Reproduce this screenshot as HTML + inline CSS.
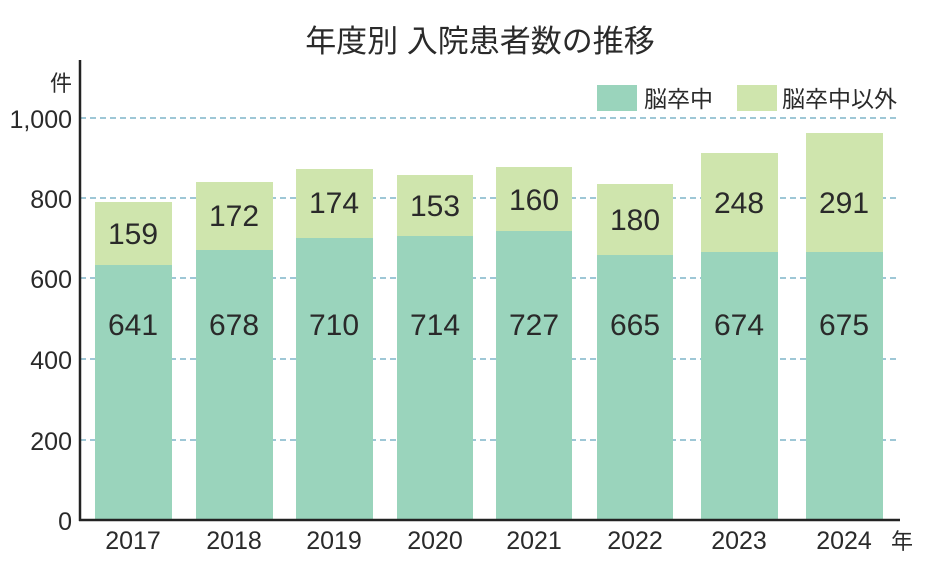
<!DOCTYPE html>
<html><head><meta charset="utf-8"><style>
body{margin:0;background:#fff}
svg text{font-family:"Liberation Sans","Noto Sans CJK JP",sans-serif;fill:#2a2a2a}
</style></head><body>
<svg width="928" height="561" viewBox="0 0 928 561" xmlns="http://www.w3.org/2000/svg">
<text x="480" y="52" font-size="31" text-anchor="middle">年度別 入院患者数の推移</text>
<g stroke="#3d8fae" stroke-width="1" stroke-dasharray="6,4">
<line x1="80" y1="118" x2="900" y2="118"/>
<line x1="80" y1="198" x2="900" y2="198"/>
<line x1="80" y1="278" x2="900" y2="278"/>
<line x1="80" y1="359" x2="900" y2="359"/>
<line x1="80" y1="440" x2="900" y2="440"/>
</g>
<g font-size="25" text-anchor="end">
<text x="72" y="91" font-size="22">件</text>
<text x="72" y="128">1,000</text>
<text x="72" y="208">800</text>
<text x="72" y="288">600</text>
<text x="72" y="369">400</text>
<text x="72" y="450">200</text>
<text x="72" y="530">0</text>
</g>
<g>
<rect x="95" y="202" width="77" height="63" fill="#cfe5ad"/><rect x="95" y="265" width="77" height="255" fill="#9ad4bc"/>
<rect x="196" y="182" width="77" height="68" fill="#cfe5ad"/><rect x="196" y="250" width="77" height="270" fill="#9ad4bc"/>
<rect x="296" y="169" width="77" height="69" fill="#cfe5ad"/><rect x="296" y="238" width="77" height="282" fill="#9ad4bc"/>
<rect x="397" y="175" width="76" height="61" fill="#cfe5ad"/><rect x="397" y="236" width="76" height="284" fill="#9ad4bc"/>
<rect x="496" y="167" width="76" height="64" fill="#cfe5ad"/><rect x="496" y="231" width="76" height="289" fill="#9ad4bc"/>
<rect x="597" y="184" width="76" height="71" fill="#cfe5ad"/><rect x="597" y="255" width="76" height="265" fill="#9ad4bc"/>
<rect x="701" y="153" width="77" height="99" fill="#cfe5ad"/><rect x="701" y="252" width="77" height="268" fill="#9ad4bc"/>
<rect x="806" y="133" width="77" height="119" fill="#cfe5ad"/><rect x="806" y="252" width="77" height="268" fill="#9ad4bc"/>
</g>
<g font-size="30" text-anchor="middle">
<text x="133" y="244">159</text><text x="133" y="335">641</text>
<text x="234" y="226">172</text><text x="234" y="335">678</text>
<text x="334" y="213">174</text><text x="334" y="335">710</text>
<text x="435" y="216">153</text><text x="435" y="335">714</text>
<text x="534" y="210">160</text><text x="534" y="335">727</text>
<text x="635" y="230">180</text><text x="635" y="335">665</text>
<text x="739" y="213">248</text><text x="739" y="335">674</text>
<text x="844" y="213">291</text><text x="844" y="335">675</text>
</g>
<line x1="80" y1="60" x2="80" y2="521" stroke="#222" stroke-width="2.5"/>
<line x1="79" y1="520" x2="900" y2="520" stroke="#222" stroke-width="2.5"/>
<g font-size="25" text-anchor="middle">
<text x="133" y="549">2017</text><text x="234" y="549">2018</text><text x="334" y="549">2019</text>
<text x="435" y="549">2020</text><text x="534" y="549">2021</text><text x="635" y="549">2022</text>
<text x="739" y="549">2023</text><text x="844" y="549">2024</text>
<text x="902" y="549" font-size="22">年</text>
</g>
<rect x="597" y="85" width="40" height="26" fill="#9ad4bc"/>
<text x="644" y="107" font-size="23">脳卒中</text>
<rect x="737" y="85" width="40" height="26" fill="#cfe5ad"/>
<text x="782" y="107" font-size="23">脳卒中以外</text>
</svg>
</body></html>
